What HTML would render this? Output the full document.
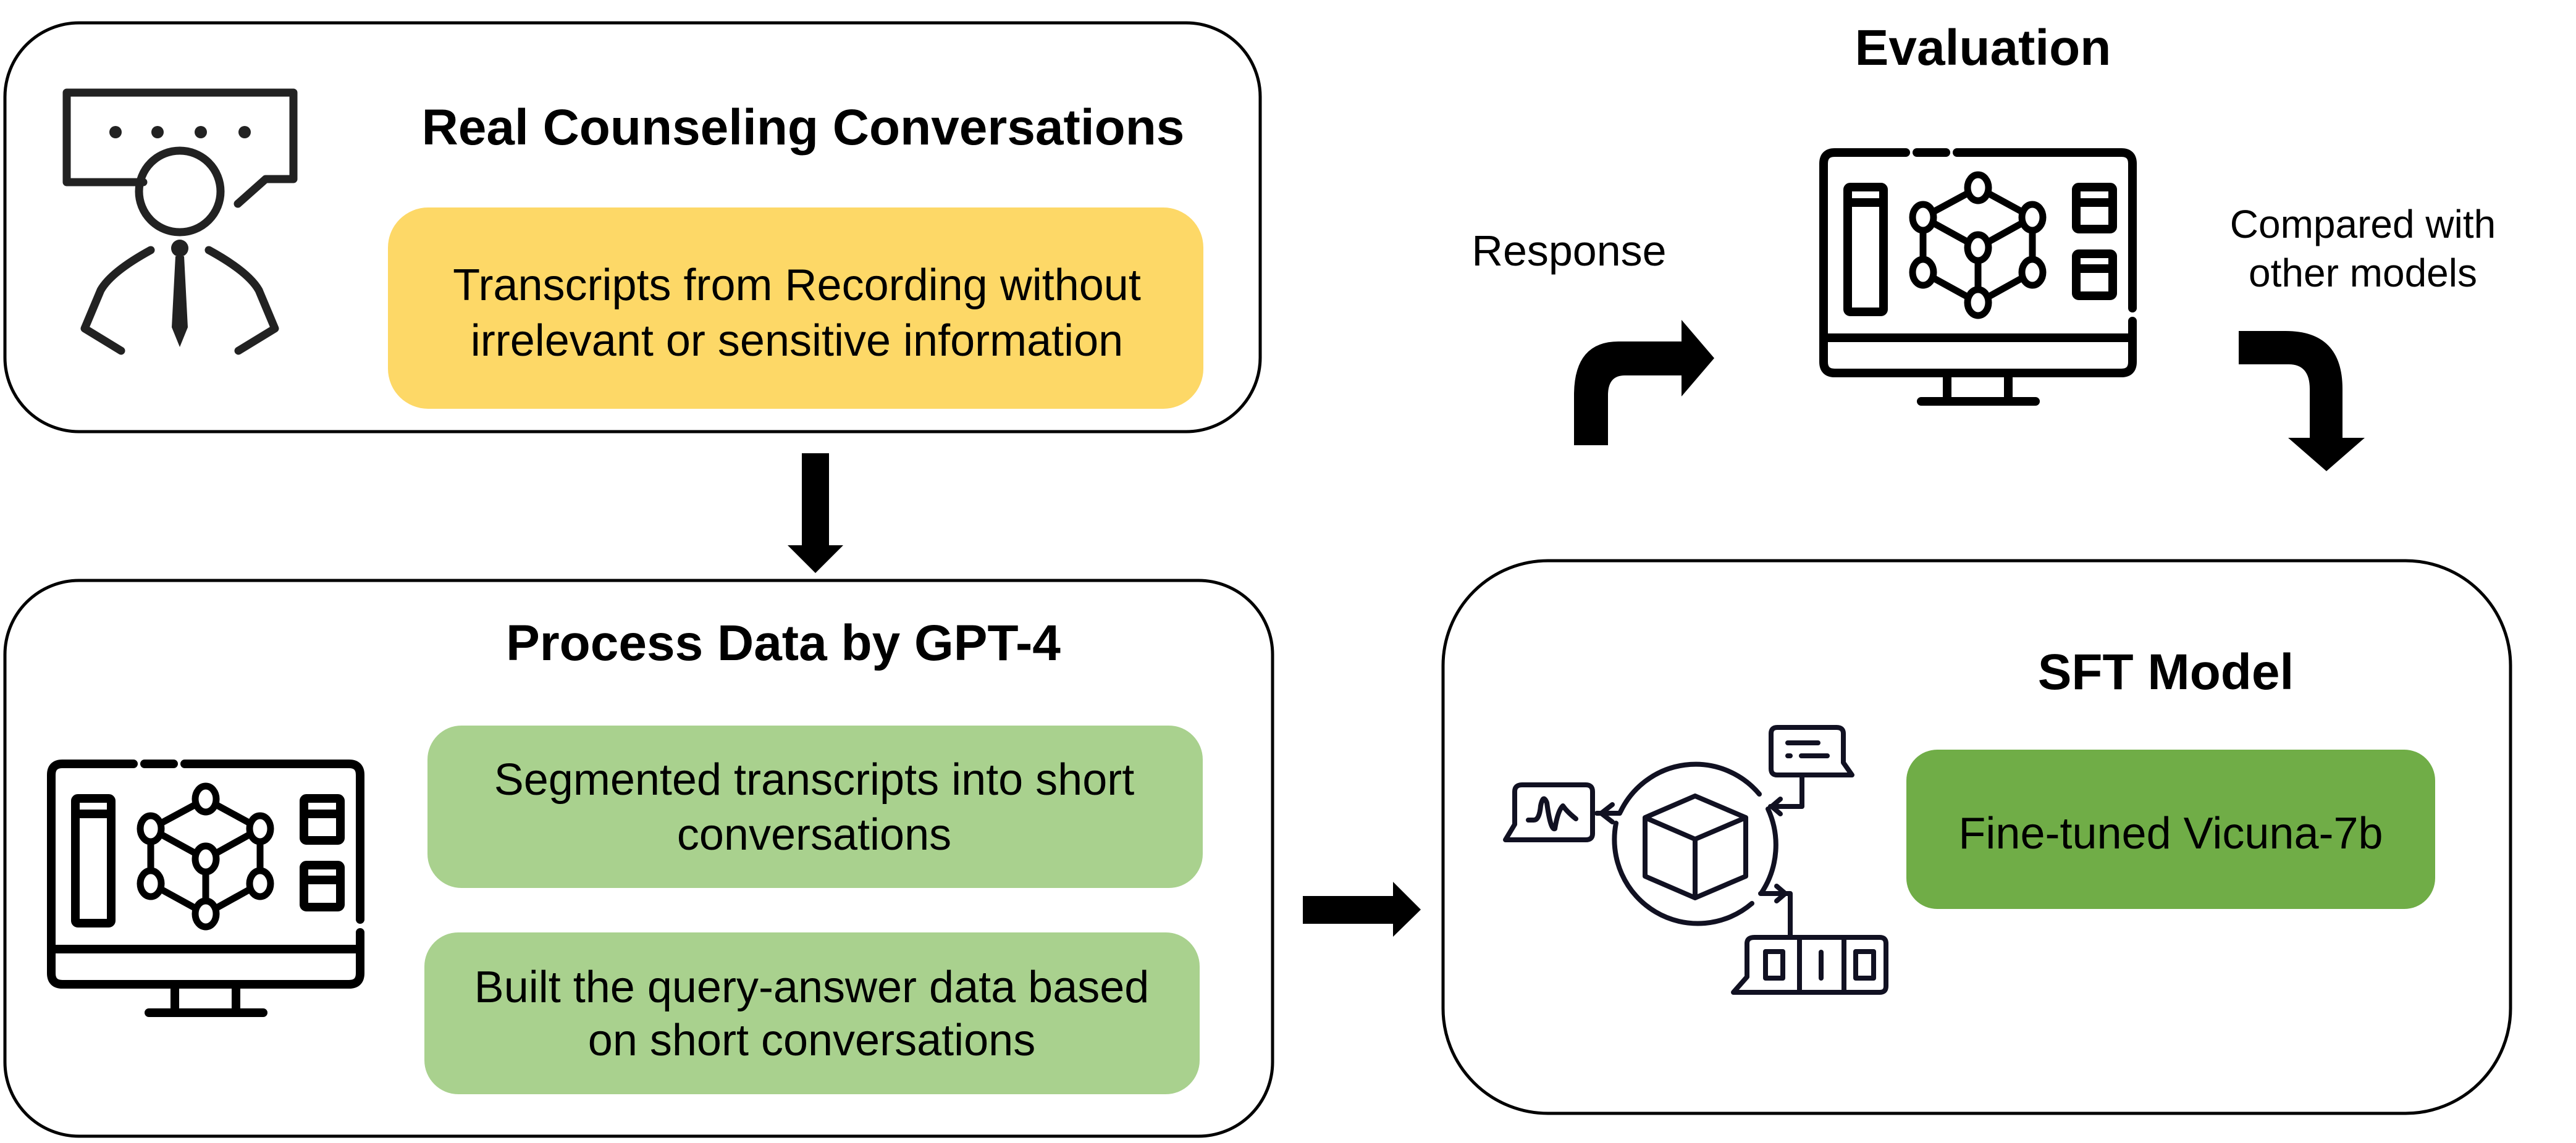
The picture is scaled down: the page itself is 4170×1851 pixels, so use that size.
<!DOCTYPE html>
<html><head><meta charset="utf-8"><style>
html,body{margin:0;padding:0;background:#fff;}
svg{display:block;}
text{font-family:"Liberation Sans",Arial,sans-serif;fill:#000;}
.t{font-weight:bold;font-size:82px;text-anchor:middle;}
.b{font-size:72px;text-anchor:middle;}
</style></head><body>
<svg width="4170" height="1851" viewBox="0 0 4170 1851" xmlns="http://www.w3.org/2000/svg">
<defs>
<g id="mon" fill="none" stroke="#000" stroke-width="14" stroke-linecap="round">
  <path d="M140 7 H25 Q7 7 7 25 V346 Q7 364 25 364 H489 Q507 364 507 346 V280 M507 259 V25 Q507 7 489 7 H223"/>
  <path d="M158 7 H205"/>
  <path d="M7 307 H507"/>
  <path d="M207 364 V405 M306 364 V405 M165 410 H350"/>
  <rect x="46" y="63" width="58" height="202" rx="4"/>
  <path d="M46 88 H104"/>
  <rect x="416" y="63" width="59" height="68" rx="4"/>
  <path d="M416 88 H475"/>
  <rect x="416" y="171" width="59" height="68" rx="4"/>
  <path d="M416 195 H475"/>
  <g stroke-width="11">
  <path d="M257 64 L168 112 L257 161 L345 112 Z M168 112 V201 L257 250 L345 201 V112 M257 161 V250"/>
  </g>
  <g fill="#fff" stroke-width="11">
  <ellipse cx="257" cy="64" rx="17" ry="21"/><ellipse cx="168" cy="112" rx="17" ry="21"/>
  <ellipse cx="345" cy="112" rx="17" ry="21"/><ellipse cx="257" cy="161" rx="17" ry="21"/>
  <ellipse cx="168" cy="201" rx="17" ry="21"/><ellipse cx="345" cy="201" rx="17" ry="21"/>
  <ellipse cx="257" cy="250" rx="17" ry="21"/>
  </g>
</g>
</defs>

<!-- Box 1 -->
<rect x="8" y="37" width="2032" height="662" rx="120" fill="#fff" stroke="#000" stroke-width="5"/>
<text class="t" x="1300" y="234">Real Counseling Conversations</text>
<rect x="628" y="336" width="1320" height="326" rx="65" fill="#FDD867"/>
<text class="b" x="1290" y="486">Transcripts from Recording without</text>
<text class="b" x="1290" y="576">irrelevant or sensitive information</text>
<!-- person icon -->
<g fill="none" stroke="#222" stroke-width="13" stroke-linecap="round" stroke-linejoin="round">
  <path d="M232 295 H108 V150 H475 V290 L430 290 L385 330"/>
  <circle cx="291" cy="310" r="66"/>
  <path d="M244 405 Q180 440 163 470 L137 532 L196 568"/>
  <path d="M338 405 Q402 440 419 470 L445 532 L386 568"/>
</g>
<g fill="#222">
  <circle cx="187" cy="214" r="10"/><circle cx="255" cy="214" r="10"/>
  <circle cx="325" cy="214" r="10"/><circle cx="396" cy="214" r="10"/>
  <circle cx="291" cy="402" r="14"/>
  <path d="M284 415 L298 415 L304 530 L291 562 L278 530 Z"/>
</g>

<!-- down arrow -->
<path d="M1298 734 H1342 V883 H1365 L1320 928 L1275 883 H1298 Z" fill="#000"/>

<!-- Box 2 -->
<rect x="8" y="940" width="2052" height="900" rx="120" fill="#fff" stroke="#000" stroke-width="5"/>
<text class="t" x="1268" y="1069">Process Data by GPT-4</text>
<rect x="692" y="1175" width="1255" height="263" rx="55" fill="#A9D18E"/>
<text class="b" x="1318" y="1287">Segmented transcripts into short</text>
<text class="b" x="1318" y="1376">conversations</text>
<rect x="687" y="1510" width="1255" height="262" rx="55" fill="#A9D18E"/>
<text class="b" x="1314" y="1623">Built the query-answer data based</text>
<text class="b" x="1314" y="1709">on short conversations</text>
<use href="#mon" x="76" y="1230"/>

<!-- right arrow -->
<path d="M2109 1451 H2255 V1428 L2300 1473 L2255 1517 V1496 H2109 Z" fill="#000"/>

<!-- Box 3 -->
<rect x="2336" y="908" width="1728" height="895" rx="170" fill="#fff" stroke="#000" stroke-width="5"/>
<text class="t" x="3506" y="1116">SFT Model</text>
<rect x="3086" y="1214" width="856" height="258" rx="50" fill="#70AD47"/>
<text class="b" x="3514" y="1374">Fine-tuned Vicuna-7b</text>
<!-- network icon -->
<g fill="none" stroke="#111122" stroke-width="8" stroke-linecap="round" stroke-linejoin="round">
  <path d="M2848 1286 A135 136 0 0 0 2623 1315"/>
  <path d="M2616 1333 A135 136 0 0 0 2836 1463"/>
  <path d="M2862 1310 A140 140 0 0 1 2852 1445"/>
  <path d="M2744 1289 L2826 1324 V1419 L2744 1454 L2663 1419 V1324 Z M2663 1324 L2744 1359 L2826 1324 M2744 1359 V1454"/>
  <path d="M2622 1317 H2585 M2610 1303 L2592 1317 L2610 1331"/>
  <path d="M2437 1360 L2452 1335 V1282 Q2452 1271 2464 1271 H2567 Q2578 1271 2578 1282 V1350 Q2578 1360 2567 1360 Z"/>
  <path d="M2474 1328 H2483 Q2492 1328 2494 1305 Q2498 1285 2504 1300 Q2510 1345 2517 1342 Q2522 1312 2530 1305 Q2537 1315 2551 1326"/>
  <path d="M2998 1255 L2984 1235 V1188 Q2984 1178 2973 1178 H2877 Q2867 1178 2867 1188 V1245 Q2867 1255 2877 1255 Z"/>
  <path d="M2894 1203 H2943 M2894 1224 H2898 M2916 1224 H2958"/>
  <path d="M2917 1255 V1306 H2866 M2882 1294 L2868 1306 L2882 1318"/>
  <path d="M2850 1447 H2898 V1518 M2876 1435 L2890 1447 L2876 1459"/>
  <path d="M2806 1607 L2828 1582 V1528 Q2828 1518 2840 1518 H3043 Q3053 1518 3053 1528 V1597 Q3053 1607 3043 1607 Z M2913 1518 V1607 M2985 1518 V1607"/>
  <rect x="2858" y="1541" width="28" height="43"/>
  <path d="M2948 1542 V1584"/>
  <rect x="3004" y="1541" width="29" height="43"/>
</g>

<!-- Evaluation -->
<text class="t" x="3210" y="105">Evaluation</text>
<use href="#mon" x="2945" y="240"/>
<text class="b" x="2540" y="430" style="font-size:70px">Response</text>
<text class="b" x="3825" y="385" style="font-size:64px">Compared with</text>
<text class="b" x="3825" y="464" style="font-size:64px">other models</text>
<!-- curved arrows -->
<path d="M2548 721 V640 Q2548 553 2620 553 H2722 V518 L2775 580 L2722 642 V608 H2630 Q2603 608 2603 640 V721 Z" fill="#000"/>
<path d="M3624 536 H3700 Q3792 536 3792 630 V709 H3828 L3766 763 L3704 709 H3739 V630 Q3739 590 3705 590 H3624 Z" fill="#000"/>
</svg>
</body></html>
